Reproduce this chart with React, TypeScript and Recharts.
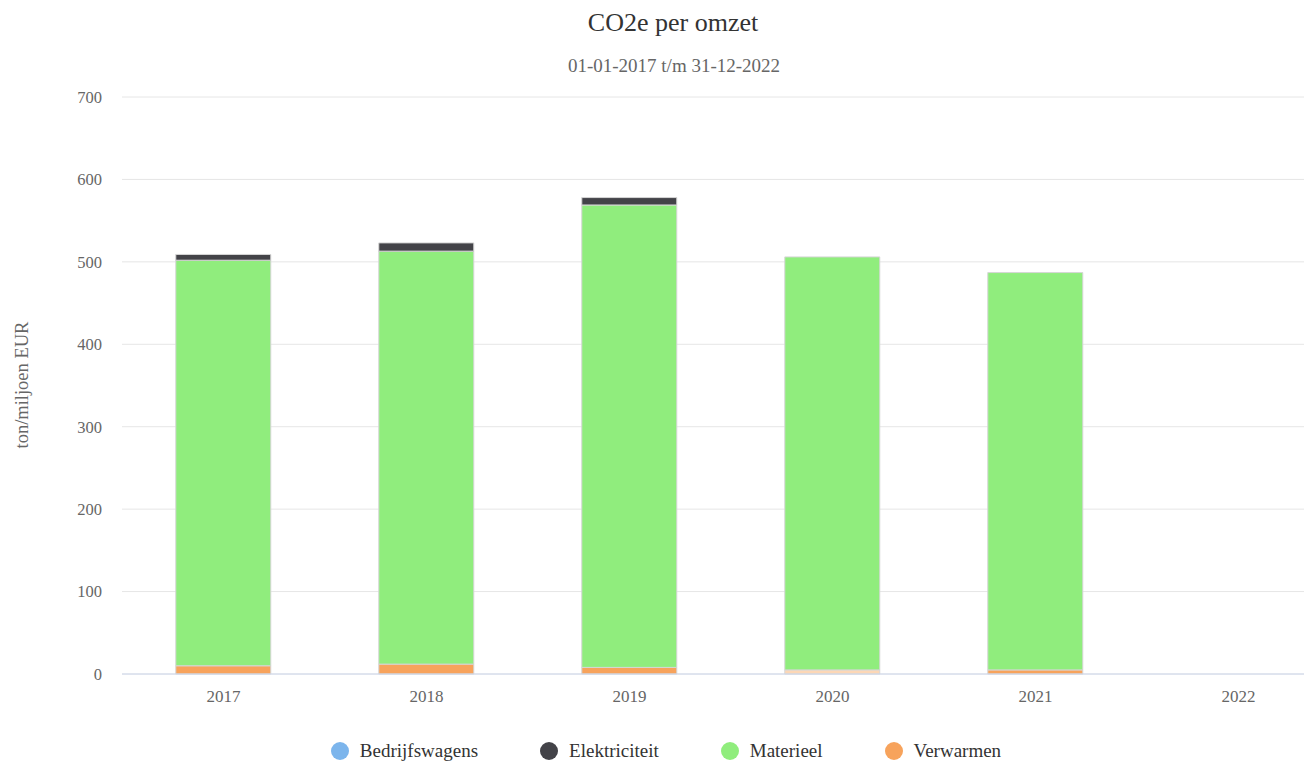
import { BarChart, Bar, XAxis, YAxis, CartesianGrid, Legend, Cell } from "recharts"

const years = ["2017", "2018", "2019", "2020", "2021", "2022"]
const bedrijfswagens = [0, 0, 0, 0, 0, 0]
const elektriciteit = [7, 10, 9, 0, 0, 0]
const materieel = [492, 501, 561, 501, 482, 0]
const verwarmen = [10, 12, 8, 5, 5, 0]
const yTicks = [0, 100, 200, 300, 400, 500, 600, 700]

const series = [
  { key: "Verwarmen", color: "#f7a35c" },
  { key: "Materieel", color: "#90ed7d" },
  { key: "Elektriciteit", color: "#434348" },
  { key: "Bedrijfswagens", color: "#7cb5ec" },
]
const legendOrder = ["Bedrijfswagens", "Elektriciteit", "Materieel", "Verwarmen"]

const data = years.map((year, i) => ({
  year,
  Bedrijfswagens: bedrijfswagens[i],
  Elektriciteit: elektriciteit[i],
  Materieel: materieel[i],
  Verwarmen: verwarmen[i],
}))

const font = '"Liberation Serif", "Times New Roman", serif'

function renderLegend() {
  return (
    <div style={{ display: "flex", justifyContent: "center", fontFamily: font, fontSize: 19, color: "#333", lineHeight: "22px" }}>
      {legendOrder.map(name => {
        const s = series.find(x => x.key === name)!
        return (
          <div key={name} style={{ display: "flex", alignItems: "center", margin: "0 31px" }}>
            <span style={{ width: 18, height: 18, borderRadius: "50%", background: s.color, display: "inline-block", marginRight: 11 }} />
            <span>{name}</span>
          </div>
        )
      })}
    </div>
  )
}

export default function App() {
  return (
    <div style={{ position: "relative", width: 1304, height: 755, overflow: "hidden", fontFamily: font }}>
      <div style={{ position: "absolute", left: 665, top: 0, transform: "translateX(-50%)", fontSize: 26, color: "#333", whiteSpace: "nowrap" }}>
        CO2e per omzet
      </div>
      <div style={{ position: "absolute", left: 666, top: 47, transform: "translateX(-50%)", fontSize: 19, color: "#666", whiteSpace: "nowrap" }}>
        01-01-2017 t/m 31-12-2022
      </div>
      <div style={{ position: "absolute", left: 14, top: 377, transform: "translate(-50%, -50%) rotate(-90deg)", fontSize: 18.5, color: "#666", whiteSpace: "nowrap" }}>
        ton/miljoen EUR
      </div>
      <BarChart
        width={1400}
        height={755}
        data={data}
        margin={{ top: 89, right: 68, left: 0, bottom: 0 }}
        barCategoryGap="26.5%"
        style={{ position: "absolute", left: 0, top: 0 }}
      >
        <CartesianGrid stroke="#e6e6e6" vertical={false} />
        <XAxis
          dataKey="year"
          height={67}
          tickLine={false}
          axisLine={{ stroke: "#ccd6eb" }}
          tick={{ fontSize: 17, fill: "#666", fontFamily: font }}
          tickMargin={10}
        />
        <YAxis
          width={114}
          domain={[0, 700]}
          ticks={yTicks}
          axisLine={false}
          tickLine={false}
          tick={{ fontSize: 16.5, fill: "#666", fontFamily: font }}
          tickMargin={14}
        />
        <Legend content={renderLegend} verticalAlign="bottom" wrapperStyle={{ left: 0, width: 1316, bottom: 1 }} />
        {series.map(s => (
          <Bar
            key={s.key}
            dataKey={s.key}
            stackId="a"
            fill={s.color}
            stroke="#d6d6d6"
            strokeWidth={1}
            isAnimationActive={false}
          >
            {s.key === "Verwarmen"
              ? data.map((d, i) => <Cell key={`c-${i}`} fill={d.year === "2020" ? "#fcd7b6" : s.color} />)
              : null}
          </Bar>
        ))}
      </BarChart>
    </div>
  )
}
